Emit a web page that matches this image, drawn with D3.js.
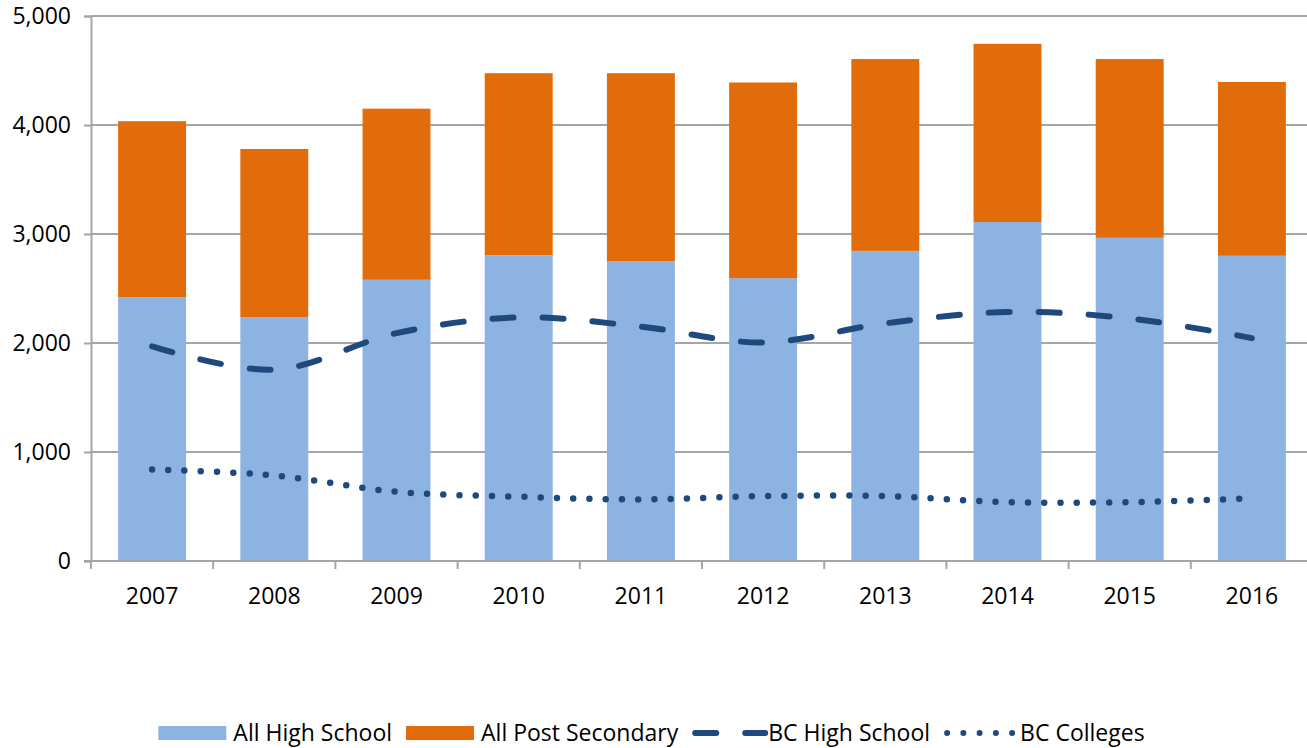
<!DOCTYPE html>
<html>
<head>
<meta charset="utf-8">
<script src="https://cdn.jsdelivr.net/npm/d3@7"></script>
<style>
  body { margin: 0; background: #fff; }
  svg { display: block; font-family: "Open Sans", sans-serif; }
</style>
</head>
<body>
<svg id="chart"></svg>
<script>
let years = ['2007', '2008', '2009', '2010', '2011', '2012', '2013', '2014', '2015', '2016'];
let allHighSchool = [2420, 2235, 2580, 2805, 2750, 2595, 2845, 3110, 2965, 2800];
let allPostSecondary = [1615, 1545, 1570, 1670, 1725, 1795, 1760, 1635, 1640, 1595];
let bcHighSchool = [1970, 1755, 2090, 2235, 2150, 2005, 2180, 2285, 2225, 2045];
let bcColleges = [840, 785, 635, 590, 565, 595, 595, 540, 540, 575];
let yTicks = [0, 1000, 2000, 3000, 4000, 5000];
let seriesNames = ['All High School', 'All Post Secondary', 'BC High School', 'BC Colleges'];

let colors = {
  hs: '#8DB3E2',
  ps: '#E36C0A',
  line: '#1F497D',
  grid: '#A6A6A6'
};

let width = 1307, height = 748;
let plot = { left: 91, right: 1313, top: 16, bottom: 561 };
let fontSize = '23px';

let svg = d3.select('#chart')
  .attr('width', width)
  .attr('height', height);

let x = d3.scaleBand()
  .domain(years)
  .range([plot.left, plot.right])
  .paddingInner(0.444)
  .paddingOuter(0.222);

let y = d3.scaleLinear()
  .domain([0, 5000])
  .range([plot.bottom, plot.top]);

let cx = d => x(d) + x.bandwidth() / 2;

// gridlines
svg.append('g')
  .selectAll('line')
  .data(yTicks.filter(t => t > 0))
  .enter()
  .append('line')
  .attr('x1', plot.left)
  .attr('x2', plot.right)
  .attr('y1', d => y(d))
  .attr('y2', d => y(d))
  .attr('stroke', colors.grid)
  .attr('stroke-width', 2);

// y axis
let yAxis = svg.append('g')
  .attr('transform', `translate(${plot.left},0)`)
  .call(d3.axisLeft(y).tickValues(yTicks).tickFormat(d3.format(',')).tickSize(7).tickPadding(13));
yAxis.select('.domain').attr('stroke', colors.grid).attr('stroke-width', 2);
yAxis.selectAll('.tick line').attr('stroke', colors.grid).attr('stroke-width', 2);
yAxis.selectAll('.tick text')
  .attr('font-size', fontSize)
  .attr('font-family', '"Open Sans", sans-serif')
  .attr('fill', '#000');

// stacked bars
let rows = years.map((yr, i) => ({ year: yr, hs: allHighSchool[i], ps: allPostSecondary[i] }));
let stack = d3.stack().keys(['hs', 'ps'])(rows);

svg.append('g')
  .selectAll('g')
  .data(stack)
  .enter()
  .append('g')
  .attr('fill', d => colors[d.key])
  .selectAll('rect')
  .data(d => d)
  .enter()
  .append('rect')
  .attr('x', d => x(d.data.year))
  .attr('width', x.bandwidth())
  .attr('y', d => y(d[1]))
  .attr('height', d => y(d[0]) - y(d[1]));

// x axis
svg.append('line')
  .attr('x1', plot.left - 7)
  .attr('x2', plot.right)
  .attr('y1', plot.bottom)
  .attr('y2', plot.bottom)
  .attr('stroke', colors.grid)
  .attr('stroke-width', 2);

let bounds = years.map(d => cx(d) - x.step() / 2).concat([cx(years[years.length - 1]) + x.step() / 2]);
svg.append('g')
  .selectAll('line')
  .data(bounds)
  .enter()
  .append('line')
  .attr('x1', d => d)
  .attr('x2', d => d)
  .attr('y1', plot.bottom)
  .attr('y2', plot.bottom + 8)
  .attr('stroke', colors.grid)
  .attr('stroke-width', 2);

svg.append('g')
  .selectAll('text')
  .data(years)
  .enter()
  .append('text')
  .attr('x', d => cx(d))
  .attr('y', 604)
  .attr('text-anchor', 'middle')
  .attr('font-size', fontSize)
  .text(d => d);

// lines
let line = d3.line()
  .x((d, i) => cx(years[i]))
  .y(d => y(d))
  .curve(d3.curveCardinal.tension(0));

svg.append('path')
  .datum(bcHighSchool)
  .attr('d', line)
  .attr('fill', 'none')
  .attr('stroke', colors.line)
  .attr('stroke-width', 6)
  .attr('stroke-linecap', 'round')
  .attr('stroke-dasharray', '21 29');

svg.append('path')
  .datum(bcColleges)
  .attr('d', line)
  .attr('fill', 'none')
  .attr('stroke', colors.line)
  .attr('stroke-width', 6.5)
  .attr('stroke-linecap', 'round')
  .attr('stroke-dasharray', '0 16.25');

// legend
let legend = svg.append('g');
let lx = 0;
let legendY = 733;
seriesNames.forEach((name, i) => {
  let g = legend.append('g').attr('transform', `translate(${lx},0)`);
  if (i < 2) {
    g.append('rect')
      .attr('x', 0)
      .attr('y', legendY - 7)
      .attr('width', 68)
      .attr('height', 14)
      .attr('fill', i === 0 ? colors.hs : colors.ps);
  } else {
    g.append('line')
      .attr('x1', 3)
      .attr('x2', i === 2 ? 73 : 70)
      .attr('y1', legendY)
      .attr('y2', legendY)
      .attr('stroke', colors.line)
      .attr('stroke-width', 6)
      .attr('stroke-linecap', 'round')
      .attr('stroke-dasharray', i === 2 ? '21 29' : '0 16.25');
  }
  let tx = i < 2 ? 75 : 76;
  let t = g.append('text')
    .attr('x', tx)
    .attr('y', legendY + 8)
    .attr('font-size', fontSize)
    .text(name);
  lx += tx + t.node().getComputedTextLength() + 14;
});
let legendWidth = lx - 14;
legend.attr('transform', `translate(${(158 + 1145) / 2 - legendWidth / 2},0)`);
</script>
</body>
</html>
